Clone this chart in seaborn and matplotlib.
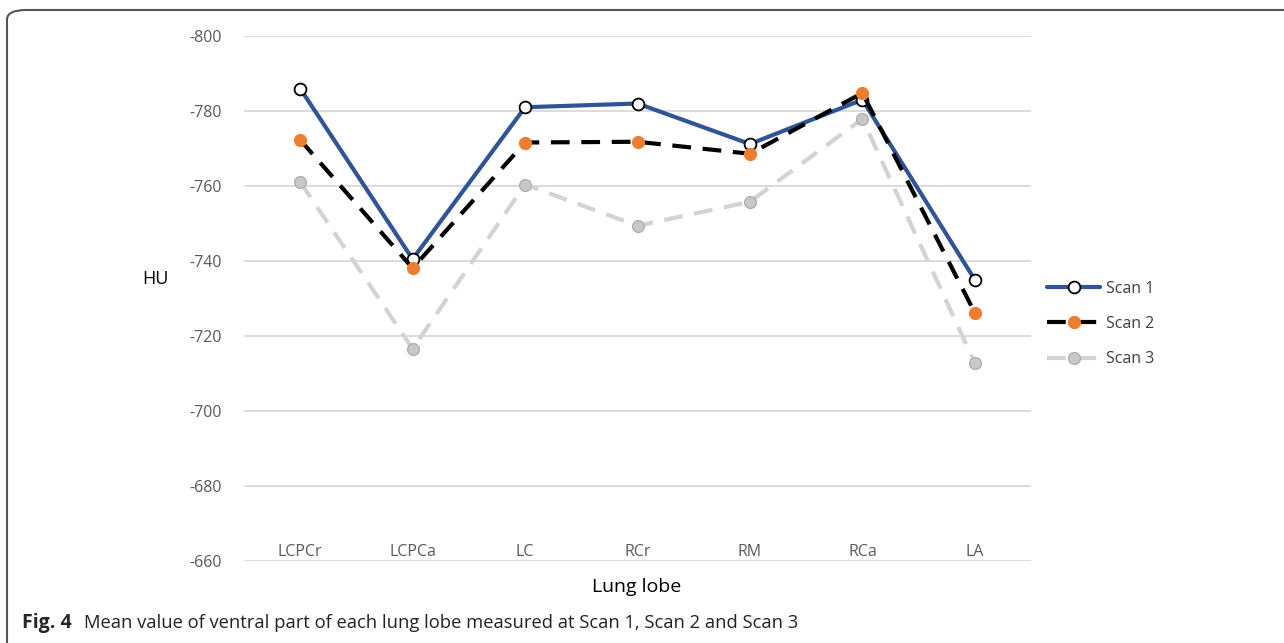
import matplotlib
matplotlib.use("Agg")
import matplotlib.pyplot as plt
from matplotlib.patches import FancyBboxPatch
import pandas as pd
import seaborn as sns

lobes = ["LCPCr", "LCPCa", "LC", "RCr", "RM", "RCa", "LA"]
scan1 = [-786, -740.5, -781, -782, -771.2, -783, -735]
scan2 = [-772.3, -738.1, -771.6, -771.8, -768.6, -784.8, -726.2]
scan3 = [-761.1, -716.6, -760.4, -749.4, -755.8, -777.9, -712.8]
yticks = [-800, -780, -760, -740, -720, -700, -680, -660]

sns.set_theme(style="white")
plt.rcParams["font.family"] = ["Open Sans", "DejaVu Sans"]

fig = plt.figure(figsize=(12.84, 6.43), dpi=100)
ax = fig.add_axes([0.190, 0.1275, 0.613, 0.8165])

styles = {
    "Scan 1": dict(color="#2F5597", lw=3, ls="-", mfc="white", mec="black", mew=1.3),
    "Scan 2": dict(color="black", lw=3, ls=(0, (4.5, 2.8)), mfc="#ED7D31", mec="#ED7D31", mew=1),
    "Scan 3": dict(color="#D3D3D3", lw=3, ls=(0, (4.5, 2.8)), mfc="#C8C8C8", mec="#B0B0B0", mew=1),
}

for name, vals in zip(["Scan 1", "Scan 2", "Scan 3"], [scan1, scan2, scan3]):
    s = styles[name]
    df = pd.DataFrame({"lobe": lobes, "HU": vals})
    sns.lineplot(data=df, x="lobe", y="HU", ax=ax, color=s["color"], linewidth=s["lw"],
                 linestyle=s["ls"], marker="o", markersize=8.5, markerfacecolor=s["mfc"],
                 markeredgecolor=s["mec"], markeredgewidth=s["mew"], label=name, sort=False)

ax.set_xlim(-0.5, 6.5)
ax.set_ylim(-660, -800)
ax.set_yticks(yticks)
ax.set_yticklabels([str(t) for t in yticks])
ax.yaxis.grid(True, color="#D9D9D9", lw=1.3)
ax.set_axisbelow(True)
for sp in ax.spines.values():
    sp.set_visible(False)
ax.tick_params(axis="both", length=0, labelsize=11.5, colors="#595959")
ax.tick_params(axis="y", pad=16)
ax.tick_params(axis="x", pad=-12)
ax.set_xlabel("")
ax.set_ylabel("")

fig.text(155 / 1284, 1 - 279 / 643, "HU", ha="center", va="center", fontsize=13, color="black")
fig.text(637 / 1284, 1 - 587 / 643, "Lung lobe", ha="center", va="center", fontsize=14, color="black")

ax.legend(loc="center left", bbox_to_anchor=(1033 / 1284, 1 - 324 / 643), bbox_transform=fig.transFigure,
          frameon=False, fontsize=11.5, handlelength=3.3, labelspacing=1.2, handletextpad=0.4,
          labelcolor="#404040")

fig.text(22 / 1284, 1 - 623 / 643, "Fig. 4", ha="left", va="center", fontsize=14, fontweight="bold")
fig.text(84 / 1284, 1 - 623 / 643, "Mean value of ventral part of each lung lobe measured at Scan 1, Scan 2 and Scan 3",
         ha="left", va="center", fontsize=13.2, color="#222222")

box = FancyBboxPatch((7 / 1284, -0.1), 1.2, 1.1 - 10 / 643, boxstyle="round,pad=0,rounding_size=0.015",
                     transform=fig.transFigure, fill=False, edgecolor="#555555", lw=1.5, clip_on=False)
fig.patches.append(box)

fig.savefig("out.png", dpi=100)
